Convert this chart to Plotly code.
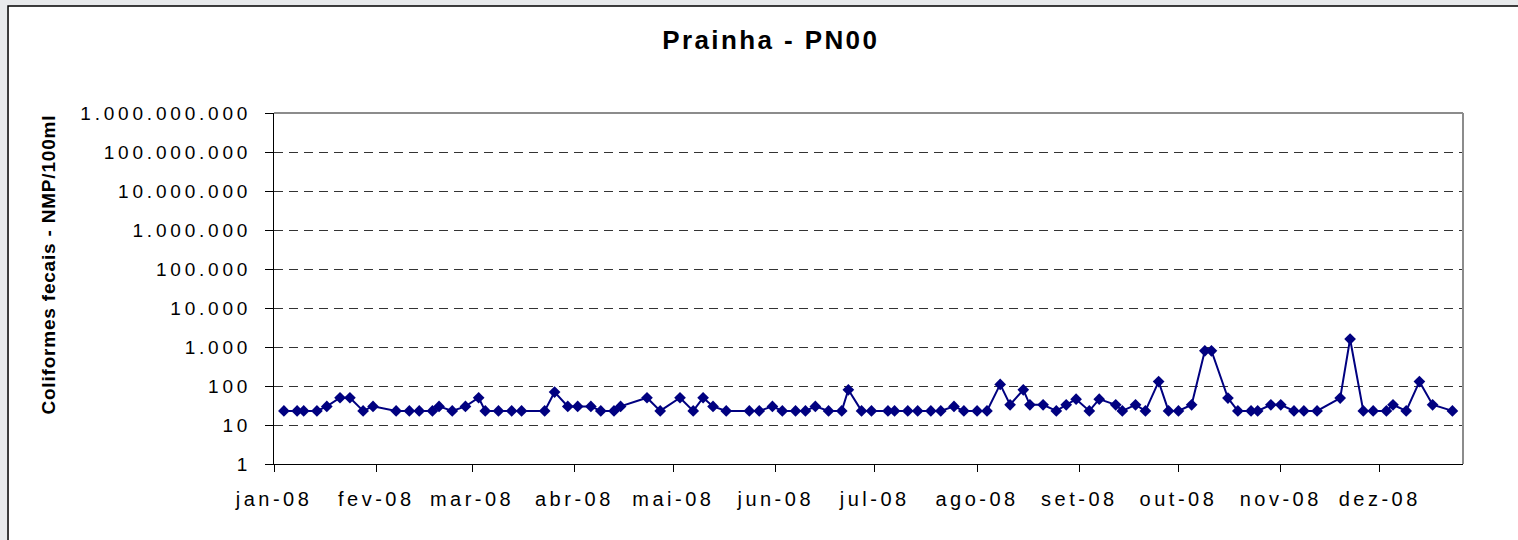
import plotly.graph_objects as go

# ---------------- data ----------------
dates = [
    "2008-01-04", "2008-01-08", "2008-01-10", "2008-01-14", "2008-01-17", "2008-01-21",
    "2008-01-24", "2008-01-28", "2008-01-31", "2008-02-07", "2008-02-11", "2008-02-14",
    "2008-02-18", "2008-02-20", "2008-02-24", "2008-02-28", "2008-03-03", "2008-03-05",
    "2008-03-09", "2008-03-13", "2008-03-16", "2008-03-23", "2008-03-26", "2008-03-30",
    "2008-04-02", "2008-04-06", "2008-04-09", "2008-04-13", "2008-04-15", "2008-04-23",
    "2008-04-27", "2008-05-03", "2008-05-07", "2008-05-10", "2008-05-13", "2008-05-17",
    "2008-05-24", "2008-05-27", "2008-05-31", "2008-06-03", "2008-06-07", "2008-06-10",
    "2008-06-13", "2008-06-17", "2008-06-21", "2008-06-23", "2008-06-27", "2008-06-30",
    "2008-07-05", "2008-07-07", "2008-07-11", "2008-07-14", "2008-07-18", "2008-07-21",
    "2008-07-25", "2008-07-28", "2008-08-01", "2008-08-04", "2008-08-08", "2008-08-11",
    "2008-08-15", "2008-08-17", "2008-08-21", "2008-08-25", "2008-08-28", "2008-08-31",
    "2008-09-04", "2008-09-07", "2008-09-12", "2008-09-14", "2008-09-18", "2008-09-21",
    "2008-09-25", "2008-09-28", "2008-10-01", "2008-10-05", "2008-10-09", "2008-10-11",
    "2008-10-16", "2008-10-19", "2008-10-23", "2008-10-25", "2008-10-29", "2008-11-01",
    "2008-11-05", "2008-11-08", "2008-11-12", "2008-11-19", "2008-11-22", "2008-11-26",
    "2008-11-29", "2008-12-03", "2008-12-05", "2008-12-09", "2008-12-13", "2008-12-17",
    "2008-12-23",
]
coliformes = [
    23, 23, 23, 23, 30, 50,
    50, 23, 30, 23, 23, 23,
    23, 30, 23, 30, 50, 23,
    23, 23, 23, 23, 70, 30,
    30, 30, 23, 23, 30, 50,
    23, 50, 23, 50, 30, 23,
    23, 23, 30, 23, 23, 23,
    30, 23, 23, 80, 23, 23,
    23, 23, 23, 23, 23, 23,
    30, 23, 23, 23, 110, 33,
    80, 33, 33, 23, 33, 46,
    23, 46, 33, 23, 33, 23,
    130, 23, 23, 33, 800, 800,
    49, 23, 23, 23, 33, 33,
    23, 23, 23, 49, 1600, 23,
    23, 23, 33, 23, 130, 33,
    23,
]

month_ticks = ["2008-01-01", "2008-02-01", "2008-03-01", "2008-04-01", "2008-05-01",
               "2008-06-01", "2008-07-01", "2008-08-01", "2008-09-01", "2008-10-01",
               "2008-11-01", "2008-12-01"]
month_labels = ["jan-08", "fev-08", "mar-08", "abr-08", "mai-08", "jun-08",
                "jul-08", "ago-08", "set-08", "out-08", "nov-08", "dez-08"]

y_ticks = [1, 10, 100, 1000, 10000, 100000, 1000000, 10000000, 100000000, 1000000000]
y_labels = ["1", "10", "100", "1.000", "10.000", "100.000", "1.000.000",
            "10.000.000", "100.000.000", "1.000.000.000"]

title_text = "Prainha - PN00"
y_title = "Coliformes fecais - NMP/100ml"

# ---------------- figure ----------------
FONT = "Liberation Sans, Arial, Helvetica, sans-serif"
NAVY = "#000080"

fig = go.Figure(
    go.Scatter(
        x=dates, y=coliformes, mode="lines+markers",
        line=dict(color=NAVY, width=2),
        marker=dict(symbol="diamond", size=9, color=NAVY),
        showlegend=False,
    )
)

fig.update_layout(
    width=1518, height=540, autosize=False,
    margin=dict(l=274, r=55, t=113, b=76),
    paper_bgcolor="#e8eaec",
    plot_bgcolor="white",
    font=dict(family=FONT, color="black"),
    shapes=[
        # outer chart frame
        dict(type="rect", xref="paper", yref="paper",
             x0=-0.2237, x1=1.1, y0=-0.3, y1=1.3048,
             line=dict(color="black", width=1.5), fillcolor="white", layer="below"),
        # gray plot-area border (top & right)
        dict(type="line", xref="paper", yref="paper", x0=0, x1=1, y0=1, y1=1,
             line=dict(color="#8c8c8c", width=2), layer="above"),
        dict(type="line", xref="paper", yref="paper", x0=1, x1=1, y0=0, y1=1,
             line=dict(color="#8c8c8c", width=2), layer="above"),
    ],
    annotations=[
        dict(text="<b>" + title_text + "</b>", xref="paper", yref="paper",
             x=0.418, y=1.2066, xanchor="center", yanchor="middle", showarrow=False,
             font=dict(family=FONT, size=26, color="black")),
        dict(text="<b>" + y_title + "</b>", xref="paper", yref="paper",
             x=-0.1901, y=0.5698, xanchor="center", yanchor="middle", showarrow=False,
             textangle=-90, font=dict(family=FONT, size=19, color="black")),
    ],
)

fig.update_xaxes(
    type="date", range=["2008-01-01", "2008-12-26 05:00"],
    tickmode="array", tickvals=month_ticks, ticktext=month_labels,
    ticks="outside", ticklen=7, tickcolor="black", tickwidth=1,
    showline=True, linecolor="black", linewidth=1,
    showgrid=False, zeroline=False,
    tickfont=dict(family=FONT, size=20, color="black"),
    ticklabelstandoff=10,
)
fig.update_yaxes(
    type="log", range=[0, 9],
    tickmode="array", tickvals=y_ticks, ticktext=y_labels,
    ticks="outside", ticklen=8, tickcolor="black", tickwidth=1,
    showline=True, linecolor="black", linewidth=1,
    showgrid=True, gridcolor="#333333", gridwidth=1, griddash="9px,6px",
    zeroline=False,
    tickfont=dict(family=FONT, size=19, color="black"),
    ticklabelstandoff=10,
)

post = """
document.body.style.margin='0';
var gd=document.getElementById('{plot_id}');
gd.querySelectorAll('.xtick text').forEach(function(t){t.style.letterSpacing='3.5px';});
gd.querySelectorAll('.ytick text').forEach(function(t){t.style.letterSpacing='3.8px';});
gd.querySelectorAll('g.annotation').forEach(function(a){
  var i=a.getAttribute('data-index'); var t=a.querySelector('text');
  if(!t) return; t.style.letterSpacing=(i==='0')?'2.4px':'0.8px';
});
"""

fig.write_html("out.html", post_script=post, config={"displayModeBar": False})
